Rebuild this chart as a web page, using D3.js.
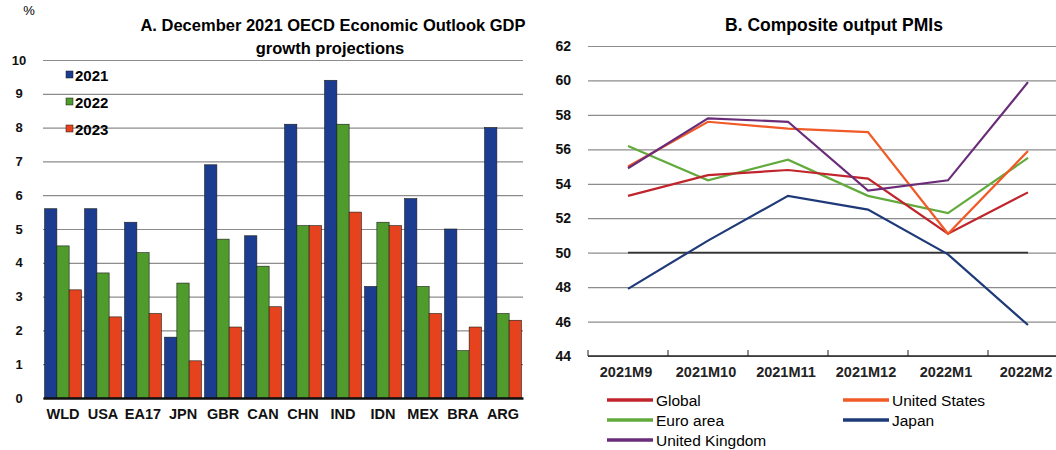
<!DOCTYPE html>
<html>
<head>
<meta charset="utf-8">
<script src="https://cdn.jsdelivr.net/npm/d3@7"></script>
<style>
  body { margin: 0; background: #fff; }
  svg { font-family: "Liberation Sans", Arial, sans-serif; }
  .tick text { fill: #111; }
</style>
</head>
<body>
<svg id="chart" width="1056" height="450"></svg>
<script>
// Panel A: GDP growth projections, %
const countries = ['WLD', 'USA', 'EA17', 'JPN', 'GBR', 'CAN', 'CHN', 'IND', 'IDN', 'MEX', 'BRA', 'ARG']
const years = ['2021', '2022', '2023']
const gdp2021 = [5.6, 5.6, 5.2, 1.8, 6.9, 4.8, 8.1, 9.4, 3.3, 5.9, 5.0, 8.0]
const gdp2022 = [4.5, 3.7, 4.3, 3.4, 4.7, 3.9, 5.1, 8.1, 5.2, 3.3, 1.4, 2.5]
const gdp2023 = [3.2, 2.4, 2.5, 1.1, 2.1, 2.7, 5.1, 5.5, 5.1, 2.5, 2.1, 2.3]
const yearColors = ['#1b3c8f', '#4f9b2c', '#e6421d']

// Panel B: composite output PMIs
const months = ['2021M9', '2021M10', '2021M11', '2021M12', '2022M1', '2022M2']
const pmiGlobal = [53.3, 54.5, 54.8, 54.3, 51.1, 53.5]
const pmiUS = [55.0, 57.6, 57.2, 57.0, 51.1, 55.9]
const pmiEuro = [56.2, 54.2, 55.4, 53.3, 52.3, 55.5]
const pmiJapan = [47.9, 50.7, 53.3, 52.5, 49.9, 45.8]
const pmiUK = [54.9, 57.8, 57.6, 53.6, 54.2, 59.9]
const pmiNames = ['Global', 'United States', 'Euro area', 'Japan', 'United Kingdom']
const pmiColors = ['#c0242c', '#f05a26', '#62aa3c', '#1e3a78', '#6a2c78']
const pmiRef = 50

const svg = d3.select('#chart')

// ---------- panel A ----------
const gA = svg.append('g')
const xA = d3.scaleBand().domain(countries).range([43, 523]).paddingInner(0.08).paddingOuter(0.04)
const xSub = d3.scaleBand().domain(years).range([0, xA.bandwidth()])
const yA = d3.scaleLinear().domain([0, 10]).range([398, 60])

gA.append('g')
    .attr('transform', 'translate(43,0)')
    .call(d3.axisLeft(yA).ticks(10).tickSize(-480).tickFormat(d3.format('d')))
    .call(g => g.select('.domain').remove())
    .call(g => g.selectAll('.tick line').attr('stroke', '#8c8c8c').attr('stroke-width', 1.2))
    .call(g => g.selectAll('.tick text').attr('x', -24).attr('text-anchor', 'middle')
        .attr('font-size', 13).attr('font-weight', 'bold'))

const gdpSeries = [gdp2021, gdp2022, gdp2023]
gdpSeries.forEach((vals, s) => {
    gA.append('g').selectAll('rect')
        .data(vals)
        .join('rect')
        .attr('x', (d, i) => xA(countries[i]) + xSub(years[s]))
        .attr('y', d => yA(d))
        .attr('width', xSub.bandwidth())
        .attr('height', d => yA(0) - yA(d))
        .attr('fill', yearColors[s])
        .attr('stroke', '#1a1a1a')
        .attr('stroke-width', 0.6)
})

gA.append('g')
    .attr('transform', 'translate(0,' + yA(0) + ')')
    .call(d3.axisBottom(xA).tickSize(0).tickPadding(11))
    .call(g => g.select('.domain').attr('stroke', '#111').attr('stroke-width', 2.5))
    .call(g => g.selectAll('.tick text').attr('font-size', 14.5).attr('font-weight', 'bold').attr('fill', '#222'))

gA.append('text').attr('x', 29).attr('y', 15).attr('text-anchor', 'middle').attr('font-size', 13).text('%')
gA.append('text').attr('x', 333).attr('y', 31).attr('text-anchor', 'middle')
    .attr('font-size', 16.5).attr('font-weight', 'bold').text('A. December 2021 OECD Economic Outlook GDP')
gA.append('text').attr('x', 330).attr('y', 54).attr('text-anchor', 'middle')
    .attr('font-size', 16.5).attr('font-weight', 'bold').text('growth projections')

const legA = gA.append('g')
years.forEach((yr, i) => {
    const row = legA.append('g').attr('transform', 'translate(66,' + (75 + i * 27) + ')')
    row.append('rect').attr('x', 0).attr('y', -4).attr('width', 7).attr('height', 7)
        .attr('fill', yearColors[i]).attr('stroke', '#1a1a1a').attr('stroke-width', 0.5)
    row.append('text').attr('x', 9).attr('y', 5.5).attr('font-size', 15).attr('font-weight', 'bold').text(yr)
})

// ---------- panel B ----------
const gB = svg.append('g')
const xB = d3.scaleBand().domain(months).range([588, 1068])
const yB = d3.scaleLinear().domain([44, 62]).range([356, 46])
const cx = m => xB(m) + xB.bandwidth() / 2

gB.append('g')
    .attr('transform', 'translate(588,0)')
    .call(d3.axisLeft(yB).tickValues(d3.range(44, 63, 2)).tickSize(-480))
    .call(g => g.select('.domain').remove())
    .call(g => g.selectAll('.tick line').attr('stroke', '#8c8c8c').attr('stroke-width', 1.2))
    .call(g => g.selectAll('.tick text').attr('x', -17).attr('font-size', 14).attr('font-weight', 'bold'))

gB.append('line')
    .attr('x1', cx(months[0])).attr('x2', cx(months[months.length - 1]))
    .attr('y1', yB(pmiRef)).attr('y2', yB(pmiRef))
    .attr('stroke', '#333').attr('stroke-width', 1.6)

// x axis with inward ticks at category boundaries
const axB = gB.append('g').attr('transform', 'translate(0,' + yB(44) + ')')
axB.append('line').attr('x1', 588).attr('x2', 1068).attr('stroke', '#222').attr('stroke-width', 1.6)
axB.selectAll('line.tk')
    .data(months)
    .join('line')
    .attr('class', 'tk')
    .attr('x1', d => xB(d)).attr('x2', d => xB(d))
    .attr('y1', 0).attr('y2', -6)
    .attr('stroke', '#222')
axB.selectAll('text')
    .data(months)
    .join('text')
    .attr('x', d => cx(d) - 2)
    .attr('y', 21)
    .attr('text-anchor', 'middle')
    .attr('font-size', 14.5)
    .attr('font-weight', 'bold')
    .attr('fill', '#222')
    .text(d => d)

const pmiSeries = [pmiGlobal, pmiUS, pmiEuro, pmiJapan, pmiUK]
const line = d3.line().x((d, i) => cx(months[i])).y(d => yB(d))
const drawOrder = [3, 2, 0, 1, 4]
drawOrder.forEach(s => {
    gB.append('path')
        .datum(pmiSeries[s])
        .attr('d', line)
        .attr('fill', 'none')
        .attr('stroke', pmiColors[s])
        .attr('stroke-width', 2.2)
})

gB.append('text').attr('x', 834).attr('y', 31).attr('text-anchor', 'middle')
    .attr('font-size', 17.5).attr('font-weight', 'bold').text('B. Composite output PMIs')

const legB = gB.append('g')
pmiNames.forEach((name, i) => {
    const col = i % 2, row = Math.floor(i / 2)
    const item = legB.append('g').attr('transform', 'translate(' + (607 + col * 236) + ',' + (400 + row * 20) + ')')
    item.append('line').attr('x1', 0).attr('x2', 46).attr('y1', 0).attr('y2', 0)
        .attr('stroke', pmiColors[i]).attr('stroke-width', 3.5)
    item.append('text').attr('x', 49).attr('y', 5.5).attr('font-size', 15.5).text(name)
})
</script>
</body>
</html>
